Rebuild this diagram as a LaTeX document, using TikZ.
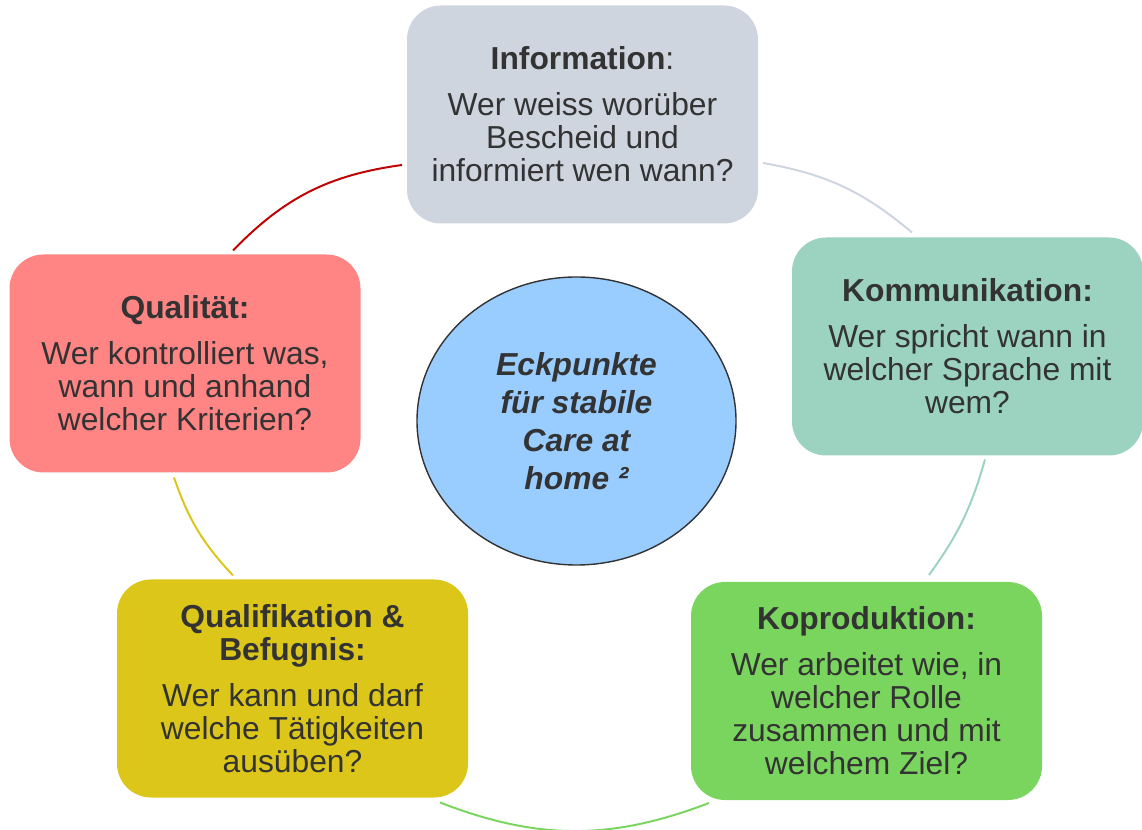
\documentclass[tikz,border=0pt]{standalone}
\usepackage{fontspec}
\setmainfont{Liberation Sans}
\usetikzlibrary{shapes.geometric}

\definecolor{infogray}{RGB}{206,213,223}
\definecolor{kommteal}{RGB}{155,211,192}
\definecolor{koprogreen}{RGB}{122,213,94}
\definecolor{qualifyellow}{RGB}{220,198,26}
\definecolor{qualpink}{RGB}{255,133,133}
\definecolor{qualred}{RGB}{192,0,0}
\definecolor{centerblue}{RGB}{153,204,255}
\definecolor{txtgray}{RGB}{51,51,51}

\newcommand{\qfont}{\fontsize{22.6}{23.5}\selectfont}

\begin{document}
\begin{tikzpicture}[inner sep=0pt,outer sep=0pt,
qblock/.style={rectangle,rounded corners=0.85cm,minimum width=8.775cm,minimum height=5.45cm,align=center,text=txtgray,font=\qfont},
arcline/.style={line width=1.4pt}]
\useasboundingbox (0,0) rectangle (28.55,20.725);

\draw (14.4125,10.2) node[ellipse,draw=txtgray,line width=1pt,fill=centerblue,minimum width=7.975cm,minimum height=7.2cm,align=center,text=txtgray,font=\fontsize{22.6}{27}\selectfont\bfseries\itshape] (ctr) {Eckpunkte\\für stabile\\Care at\\home ²};

\draw (14.5625,17.8625) node[qblock,fill=infogray] (info) {\textbf{Information}:\\[9pt]Wer weiss worüber\\Bescheid und\\informiert wen wann?};
\draw (24.1875,12.0625) node[qblock,fill=kommteal] (komm) {\textbf{Kommunikation:}\\[9pt]Wer spricht wann in\\welcher Sprache mit\\wem?};
\draw (21.6625,3.45) node[qblock,fill=koprogreen] (kopro) {\textbf{Koproduktion:}\\[9pt]Wer arbeitet wie, in\\welcher Rolle\\zusammen und mit\\welchem Ziel?};
\draw (7.3125,3.5125) node[qblock,fill=qualifyellow] (qualif) {\textbf{Qualifikation \&}\\\textbf{Befugnis:}\\[9pt]Wer kann und darf\\welche Tätigkeiten\\ausüben?};
\draw (4.625,11.6375) node[qblock,fill=qualpink] (qual) {\textbf{Qualität:}\\[9pt]Wer kontrolliert was,\\wann und anhand\\welcher Kriterien?};

% arcs round the ring, clockwise
\draw[arcline,qualred] ([shift={(1.2,0.1)}]qual.north) to[bend left=19] ([shift={(-0.125,-1.2625)}]info.west);
\draw[arcline,infogray] ([shift={(0.125,-1.2125)}]info.east) to[bend left=15] ([shift={(-1.3875,0.125)}]komm.north);
\draw[arcline,kommteal] ([shift={(0.4375,-0.1)}]komm.south) to[bend left=10] ([shift={(1.5625,0.175)}]kopro.north);
\draw[arcline,koprogreen] ([shift={(0.45,-0.075)}]kopro.south west) to[bend left=21] ([shift={(-0.7,-0.125)}]qualif.south east);
\draw[arcline,qualifyellow] ([shift={(-1.4875,0.1)}]qualif.north) to[bend left=12] ([shift={(-0.275,-0.125)}]qual.south);
\end{tikzpicture}
\end{document}
